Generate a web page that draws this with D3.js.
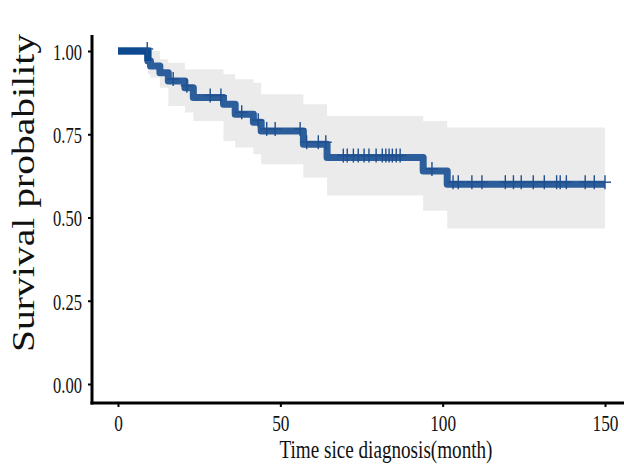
<!DOCTYPE html>
<html>
<head>
<meta charset="utf-8">
<script src="https://cdn.jsdelivr.net/npm/d3@7"></script>
<style>
  body { margin: 0; background: #fff; }
  svg { display: block; }
  .axis text { font-family: "Liberation Serif", "Times New Roman", serif; fill: #111; }
</style>
</head>
<body>
<div id="chart"></div>
<script>
// Kaplan-Meier steps (months, survival after the event)
var stepTimes = [0, 9.2, 10.0, 12.9, 15.5, 20.6, 23.2, 32.5, 36.1, 41.7, 44.1, 57.1, 64.4, 94.0, 101.4];
var survival  = [1.00, 0.970, 0.955, 0.935, 0.910, 0.890, 0.860, 0.840, 0.810, 0.786, 0.760, 0.720, 0.680, 0.640, 0.600];
var upperCI   = [1.00, 1.000, 1.000, 0.975, 0.965, 0.945, 0.945, 0.930, 0.915, 0.905, 0.870, 0.840, 0.805, 0.790, 0.770];
var lowerCI   = [1.00, 0.930, 0.920, 0.890, 0.835, 0.815, 0.790, 0.730, 0.710, 0.690, 0.660, 0.620, 0.566, 0.520, 0.467];
var endTime = 150;

// censored observations (months)
var censorTimes = [9.0, 17.0, 21.2, 28.4, 31.7, 38.1, 43.2, 45.8, 48.4, 56.1, 58.1, 61.7, 64.0,
  69.4, 70.6, 72.5, 74.0, 75.8, 77.3, 79.5, 81.4, 82.5, 83.5, 84.5, 85.7, 86.9,
  96.7, 103.2, 104.8, 109.0, 112.1, 119.3, 121.8, 124.2, 127.9, 131.3, 135.1, 136.2, 138.1,
  143.9, 146.7, 150];

var xTicks = [0, 50, 100, 150];
var yTicks = [0, 0.25, 0.5, 0.75, 1];

var width = 624, height = 465;

var svg = d3.select("#chart").append("svg")
  .attr("width", width)
  .attr("height", height);

var x = d3.scaleLinear().domain([0, 150]).range([118, 605]);
var y = d3.scaleLinear().domain([0, 1]).range([384, 51]);

// step table, closed at the end time
var steps = stepTimes.map(function(t, i) {
  return { t: t, s: survival[i], hi: upperCI[i], lo: lowerCI[i] };
});
steps.push({ t: endTime, s: survival[survival.length - 1], hi: upperCI[upperCI.length - 1], lo: lowerCI[lowerCI.length - 1] });

function survAt(t) {
  var s = survival[0];
  for (var i = 0; i < stepTimes.length; i++) {
    if (stepTimes[i] <= t) s = survival[i];
  }
  return s;
}

//************ CONFIDENCE BAND ************
var band = d3.area()
  .curve(d3.curveStepAfter)
  .x(function(d) { return x(d.t); })
  .y0(function(d) { return y(d.lo); })
  .y1(function(d) { return y(d.hi); });

svg.append("path")
  .datum(steps)
  .attr("d", band)
  .attr("fill", "#ebebeb");

//************ SURVIVAL CURVE ************
var line = d3.line()
  .curve(d3.curveStepAfter)
  .x(function(d) { return x(d.t); })
  .y(function(d) { return y(d.s); });

svg.append("path")
  .datum(steps)
  .attr("d", line)
  .attr("fill", "none")
  .attr("stroke", "#2c5e9c")
  .attr("stroke-width", 7)
  .attr("stroke-linejoin", "round");

// darker first flat segment
svg.append("path")
  .datum(steps.slice(0, 2))
  .attr("d", line)
  .attr("fill", "none")
  .attr("stroke", "#0d4a90")
  .attr("stroke-width", 7);

//************ CENSOR MARKS ************
var marks = svg.append("g").attr("class", "censor");
censorTimes.forEach(function(t) {
  var cx = x(t), cy = y(survAt(t)) - 2;
  marks.append("line")
    .attr("x1", cx - 6).attr("x2", cx + 6)
    .attr("y1", cy).attr("y2", cy);
  marks.append("line")
    .attr("x1", cx).attr("x2", cx)
    .attr("y1", cy - 7).attr("y2", cy + 7);
});
marks.selectAll("line")
  .attr("stroke", "#1f4f8e")
  .attr("stroke-width", 1.4);

//************ AXES ************
var xAxis = d3.axisBottom(x)
  .tickValues(xTicks)
  .tickSizeInner(4)
  .tickSizeOuter(0)
  .tickFormat(d3.format("d"));

var gx = svg.append("g")
  .attr("class", "x axis")
  .attr("transform", "translate(0," + 403 + ")")
  .call(xAxis);
gx.select(".domain").remove();
gx.selectAll(".tick line").attr("stroke", "#000").attr("stroke-width", 2);
gx.selectAll(".tick text")
  .attr("y", 28)
  .attr("dy", 0)
  .attr("font-size", 24)
  .attr("transform", "scale(0.72,1)");

var yAxis = d3.axisLeft(y)
  .tickValues(yTicks)
  .tickSizeInner(4)
  .tickSizeOuter(0)
  .tickFormat(d3.format(".2f"));

var gy = svg.append("g")
  .attr("class", "y axis")
  .attr("transform", "translate(" + 92 + ",0)")
  .call(yAxis);
gy.select(".domain").remove();
gy.selectAll(".tick line").attr("stroke", "#000").attr("stroke-width", 2);
gy.selectAll(".tick text")
  .attr("x", -10 / 0.72)
  .attr("dy", "0.36em")
  .attr("font-size", 23)
  .attr("transform", "scale(0.72,1)");

// axis lines
svg.append("line")
  .attr("x1", 92).attr("x2", 92)
  .attr("y1", 35).attr("y2", 404.5)
  .attr("stroke", "#000").attr("stroke-width", 3);
svg.append("line")
  .attr("x1", 90.5).attr("x2", 624)
  .attr("y1", 403).attr("y2", 403)
  .attr("stroke", "#000").attr("stroke-width", 3);

// titles
svg.append("text")
  .attr("class", "axis")
  .attr("x", 386)
  .attr("y", 458)
  .attr("text-anchor", "middle")
  .attr("font-family", "Liberation Serif, Times New Roman, serif")
  .attr("font-size", 25)
  .attr("textLength", 213)
  .attr("lengthAdjust", "spacingAndGlyphs")
  .attr("fill", "#111")
  .text("Time sice diagnosis(month)");

svg.append("text")
  .attr("transform", "translate(34,193) rotate(-90)")
  .attr("text-anchor", "middle")
  .attr("font-family", "Liberation Serif, Times New Roman, serif")
  .attr("font-size", 31)
  .attr("textLength", 318)
  .attr("lengthAdjust", "spacingAndGlyphs")
  .attr("fill", "#111")
  .text("Survival probability");
</script>
</body>
</html>
